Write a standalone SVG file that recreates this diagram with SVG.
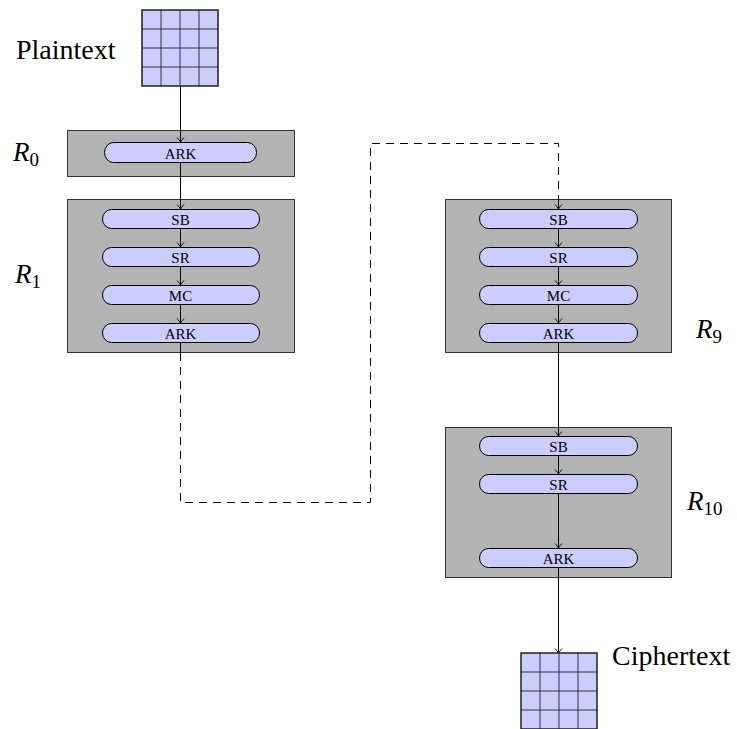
<svg xmlns="http://www.w3.org/2000/svg" width="737" height="729" viewBox="0 0 737 729">
<defs>
<style>
.box{fill:#b3b3b3;stroke:#333;stroke-width:1}
.pill{fill:#ccccff;stroke:#000;stroke-width:1}
.ptxt{font-family:"Liberation Serif",serif;font-size:15px;text-anchor:middle;fill:#000}
.lbl{font-family:"Liberation Serif",serif;font-size:28px;fill:#000}
.rl{font-family:"Liberation Serif",serif;font-size:27px;font-style:italic;fill:#000}
.sub{font-size:19px;font-style:normal}
.cell{fill:#ccccff;stroke:#333;stroke-width:1}
.edge{fill:none;stroke:#000;stroke-width:1}
.dash{stroke-dasharray:8 6}
</style>
<marker id="arr" markerUnits="userSpaceOnUse" markerWidth="12" markerHeight="12" viewBox="-6 -6 12 12" refX="0" refY="0" orient="auto">
<path d="M -4.5 -3.5 Q -1.5 -0.8 0 0 Q -1.5 0.8 -4.5 3.5" fill="none" stroke="#000" stroke-width="0.9"/>
</marker>
<g id="grid">
<rect x="0" y="0" width="76" height="76" fill="#ccccff"/>
<path d="M19 0V76M38 0V76M57 0V76M0 19H76M0 38H76M0 57H76" stroke="#333" stroke-width="1" fill="none"/>
<rect x="0" y="0" width="76" height="76" fill="none" stroke="#222" stroke-width="1.5"/>
</g>
</defs>

<g id="plaintext">
<use href="#grid" x="142" y="10"/>
<text class="lbl" x="16" y="59">Plaintext</text>
</g>

<g id="round0">
<rect class="box" x="67.5" y="130.5" width="227" height="46"/>
<text class="rl" x="13" y="161">R<tspan class="sub" dy="5">0</tspan></text>
</g>

<g id="round1">
<rect class="box" x="67.5" y="199.5" width="227" height="153"/>
<text class="rl" x="15" y="283">R<tspan class="sub" dy="5">1</tspan></text>
</g>

<g id="round9">
<rect class="box" x="445.5" y="199.5" width="226" height="153"/>
<text class="rl" x="696" y="338">R<tspan class="sub" dy="5">9</tspan></text>
</g>

<g id="round10">
<rect class="box" x="445.5" y="427.5" width="226" height="150"/>
<text class="rl" x="687" y="510">R<tspan class="sub" dy="5">10</tspan></text>
</g>

<g id="connectors">
<path class="edge" d="M180.5 86V142" marker-end="url(#arr)"/>
<path class="edge" d="M180.5 162V209" marker-end="url(#arr)"/>
<path class="edge" d="M180.5 228V247" marker-end="url(#arr)"/>
<path class="edge" d="M180.5 266V285" marker-end="url(#arr)"/>
<path class="edge" d="M180.5 304V323" marker-end="url(#arr)"/>
<path class="edge" d="M180.5 342V353"/>
<path class="edge dash" d="M180.5 353V502.5H370.5V143.5H558.5V200"/>
<path class="edge" d="M558.5 200V209" marker-end="url(#arr)"/>
<path class="edge" d="M558.5 228V247" marker-end="url(#arr)"/>
<path class="edge" d="M558.5 266V285" marker-end="url(#arr)"/>
<path class="edge" d="M558.5 304V323" marker-end="url(#arr)"/>
<path class="edge" d="M558.5 342V436" marker-end="url(#arr)"/>
<path class="edge" d="M558.5 455V474" marker-end="url(#arr)"/>
<path class="edge" d="M558.5 493V548" marker-end="url(#arr)"/>
<path class="edge" d="M558.5 568V653" marker-end="url(#arr)"/>
</g>

<g id="r0-ark">
<rect class="pill" x="104.5" y="142.5" width="152" height="20" rx="9" ry="10"/>
<text class="ptxt" x="180.5" y="159">ARK</text>
</g>
<g id="r1-sb">
<rect class="pill" x="102.5" y="209.5" width="157" height="19" rx="9" ry="9.5"/>
<text class="ptxt" x="180.5" y="225">SB</text>
</g>
<g id="r1-sr">
<rect class="pill" x="102.5" y="247.5" width="157" height="19" rx="9" ry="9.5"/>
<text class="ptxt" x="180.5" y="263">SR</text>
</g>
<g id="r1-mc">
<rect class="pill" x="102.5" y="285.5" width="157" height="19" rx="9" ry="9.5"/>
<text class="ptxt" x="180.5" y="301">MC</text>
</g>
<g id="r1-ark">
<rect class="pill" x="102.5" y="323.5" width="157" height="19" rx="9" ry="9.5"/>
<text class="ptxt" x="180.5" y="339">ARK</text>
</g>

<g id="r9-sb">
<rect class="pill" x="479.5" y="209.5" width="158" height="19" rx="9" ry="9.5"/>
<text class="ptxt" x="558.5" y="225">SB</text>
</g>
<g id="r9-sr">
<rect class="pill" x="479.5" y="247.5" width="158" height="19" rx="9" ry="9.5"/>
<text class="ptxt" x="558.5" y="263">SR</text>
</g>
<g id="r9-mc">
<rect class="pill" x="479.5" y="285.5" width="158" height="19" rx="9" ry="9.5"/>
<text class="ptxt" x="558.5" y="301">MC</text>
</g>
<g id="r9-ark">
<rect class="pill" x="479.5" y="323.5" width="158" height="19" rx="9" ry="9.5"/>
<text class="ptxt" x="558.5" y="339">ARK</text>
</g>

<g id="r10-sb">
<rect class="pill" x="479.5" y="436.5" width="158" height="19" rx="9" ry="9.5"/>
<text class="ptxt" x="558.5" y="452">SB</text>
</g>
<g id="r10-sr">
<rect class="pill" x="479.5" y="474.5" width="158" height="19" rx="9" ry="9.5"/>
<text class="ptxt" x="558.5" y="490">SR</text>
</g>
<g id="r10-ark">
<rect class="pill" x="479.5" y="548.5" width="158" height="19" rx="9" ry="9.5"/>
<text class="ptxt" x="558.5" y="564">ARK</text>
</g>

<g id="ciphertext">
<use href="#grid" x="521" y="653"/>
<text class="lbl" x="612" y="665">Ciphertext</text>
</g>
</svg>
